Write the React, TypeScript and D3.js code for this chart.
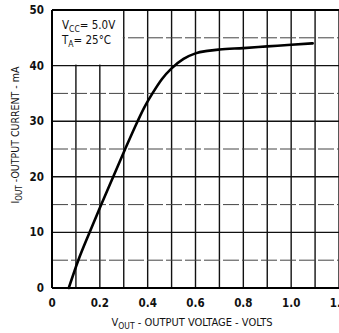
import React from "react";
import * as d3 from "d3";

const voltage = [0.07, 0.11, 0.157, 0.206, 0.256, 0.306, 0.358, 0.385, 0.42, 0.46, 0.5, 0.55, 0.6, 0.65, 0.7, 0.8, 0.9, 1.0, 1.09];
const current = [0, 5, 10, 15, 20, 25, 30, 32.4, 35, 37.6, 39.5, 41.2, 42.2, 42.65, 42.9, 43.15, 43.45, 43.75, 44.0];
const xTicks = [0, 0.2, 0.4, 0.6, 0.8, 1.0, 1.2];
const xTickLabels = ["0", "0.2", "0.4", "0.6", "0.8", "1.0", "1.2"];
const yTicks = [0, 10, 20, 30, 40, 50];
const xGrid = d3.range(0, 13).map((i) => i / 10);
const yGrid = d3.range(0, 11).map((i) => i * 5);

const W = 339;
const H = 333;
const FONT = "'DejaVu Sans Condensed', 'Liberation Sans Narrow', 'DejaVu Sans', sans-serif";

export default function App() {
  const x = d3.scaleLinear().domain([0, 1.2]).range([52, 339]);
  const y = d3.scaleLinear().domain([0, 50]).range([288, 10]);
  const pts: [number, number][] = voltage.map((v, i) => [v, current[i]]);
  const line = d3
    .line<[number, number]>()
    .x((d) => x(d[0]))
    .y((d) => y(d[1]))
    .curve(d3.curveMonotoneX);

  return (
    <svg
      width={W}
      height={H}
      style={{ position: "absolute", left: 0, top: 0, background: "#fff" }}
      fontFamily={FONT}
    >
      <rect x={0} y={0} width={W} height={H} fill="#fff" />
      {xGrid.map((v, i) => (
        <line key={"vx" + i} x1={x(v)} x2={x(v)} y1={y(0)} y2={y(50)} stroke="#111" strokeWidth={1.4} />
      ))}
      {yGrid.map((v, i) => (
        <line
          key={"hy" + i}
          x1={x(0)}
          x2={x(1.2)}
          y1={y(v)}
          y2={y(v)}
          stroke={v % 10 === 0 ? "#111" : "#444"}
          strokeWidth={v % 10 === 0 ? 1.4 : 1}
          strokeDasharray={v % 10 === 0 ? undefined : "16 3"}
        />
      ))}
      {/* annotation box */}
      <rect x={x(0) + 1} y={y(50) + 1} width={x(0.3) - x(0) - 2} height={y(40) - y(50) - 2} fill="#fff" />
      <text x={62} y={29} fontSize={11.5} fill="#111">
        V<tspan fontSize={8.5} dy={3}>CC</tspan>
        <tspan dy={-3}>= 5.0V</tspan>
      </text>
      <text x={62} y={44} fontSize={11.5} fill="#111">
        T<tspan fontSize={8.5} dy={3}>A</tspan>
        <tspan dy={-3}>= 25°C</tspan>
      </text>
      {/* border */}
      <line x1={x(0)} x2={x(0)} y1={y(0)} y2={y(50)} stroke="#000" strokeWidth={2} />
      <line x1={x(0)} x2={x(1.2)} y1={y(0)} y2={y(0)} stroke="#000" strokeWidth={2} />
      <line x1={x(0)} x2={x(1.2)} y1={y(50)} y2={y(50)} stroke="#000" strokeWidth={2} />
      {/* curve */}
      <path d={line(pts) || ""} fill="none" stroke="#000" strokeWidth={2.6} strokeLinecap="round" strokeLinejoin="round" />
      {/* ticks */}
      {xTicks.map((v, i) => (
        <text key={"xt" + i} x={x(v)} y={307} fontSize={11.5} fontWeight="bold" textAnchor="middle" fill="#111">
          {xTickLabels[i]}
        </text>
      ))}
      {yTicks.map((v) => (
        <text key={"yt" + v} x={44} y={y(v) + 4} fontSize={11.5} fontWeight="bold" textAnchor="end" fill="#111">
          {v}
        </text>
      ))}
      <text x={192} y={326} fontSize={11} textAnchor="middle" fill="#111">
        V<tspan fontSize={8.5} dy={3}>OUT</tspan>
        <tspan dy={-3}> - OUTPUT VOLTAGE - VOLTS</tspan>
      </text>
      <text transform={`translate(19,135) rotate(-90)`} fontSize={10.5} textAnchor="middle" fill="#111">
        I<tspan fontSize={8} dy={3}>OUT</tspan>
        <tspan dy={-3}> -OUTPUT CURRENT - mA</tspan>
      </text>
    </svg>
  );
}
